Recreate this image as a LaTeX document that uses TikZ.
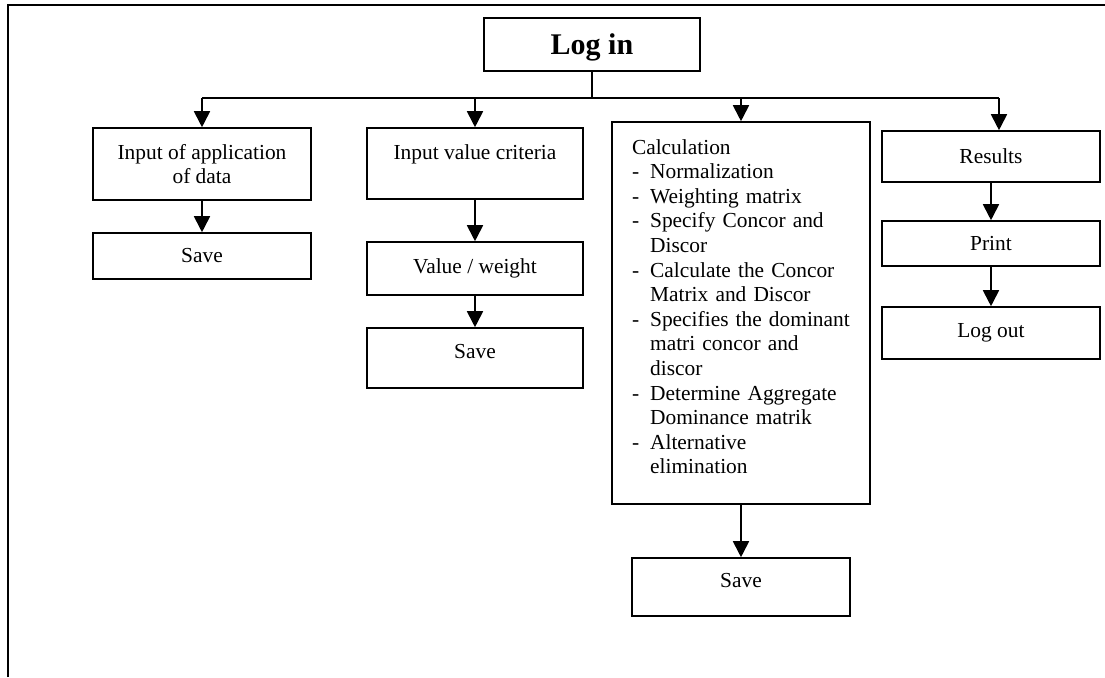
\documentclass[tikz,border=0pt]{standalone}
\usepackage{fontspec}
\setmainfont{Liberation Serif}
\usetikzlibrary{arrows.meta}

\begin{document}
\begin{tikzpicture}[x=0.5pt, y=-0.5pt,
    box/.style={draw, line width=0.8pt, inner sep=0pt, align=center,
      font=\fontsize{10.7}{12.3}\selectfont},
    arr/.style={line width=0.9pt, -{Triangle[width=8pt,length=8pt]}},
    bus/.style={line width=0.9pt}]

      \useasboundingbox (0,0) rectangle (1105,677);
      \draw [line width=1.2pt] (8,677) -- (8,5) -- (1105,5);

      \node [box, minimum width=108pt, minimum height=26.5pt, text depth=0pt,
        font=\fontsize{15}{18}\selectfont\bfseries] (login) at (592,44.5) {Log in};

      \node [box, minimum width=109pt, minimum height=36pt] (inA) at (202,164)
        {Input of application\\of data};
      \node [box, minimum width=109pt, minimum height=23pt] (saveA) at (202,256) {Save};

      \node [box, minimum width=108pt, minimum height=35.5pt, text depth=11pt]
        (inB) at (475,163.5) {Input value criteria};
      \node [box, minimum width=108pt, minimum height=26.5pt] (valw) at (475,268.5)
        {Value / weight};
      \node [box, minimum width=108pt, minimum height=30pt, text depth=6.4pt]
        (saveB) at (475,358) {Save};

      \node [box, align=left, text width=109pt, inner xsep=10pt, minimum height=191pt]
        (calc) at (741,313) {%
        \begin{tabular}{@{}l@{\hspace{5.5pt}}l@{}}
          \multicolumn{2}{@{}l@{}}{Calculation}\\
          - & Normalization\\
          - & Weighting matrix\\
          - & Specify Concor and\\
            & Discor\\
          - & Calculate the Concor\\
            & Matrix and Discor\\
          - & Specifies the dominant\\
            & matri concor and\\
            & discor\\
          - & Determine Aggregate\\
            & Dominance matrik\\
          - & Alternative\\
            & elimination\\[4pt]
        \end{tabular}};
      \node [box, minimum width=109pt, minimum height=29pt, text depth=6.4pt]
        (saveC) at (741,587) {Save};

      \foreach \m/\l/\y/\h in {results/Results/156.5/25.5, print/Print/243.5/22.5,
          logout/Log out/333/26}
      \node [box, minimum width=109pt, minimum height=\h pt] (\m) at (991,\y) {\l};

      % bus from Log in to the four columns
      \coordinate (busL) at (202,98);
      \coordinate (busR) at (999,98);
      \draw [bus] (login.south) -- (login.south |- busL);
      \draw [bus] (busL) -- (busR);

      \foreach \n in {inA,inB,calc}
      \draw [arr] (\n.north |- busL) -- (\n.north);
      \draw [arr] (busR) -- (busR |- results.north);

      \foreach \a/\b in {inA/saveA, inB/valw, valw/saveB, calc/saveC,
          results/print, print/logout}
      \draw [arr] (\a.south) -- (\a.south |- \b.north);

    \end{tikzpicture}
\end{document}
